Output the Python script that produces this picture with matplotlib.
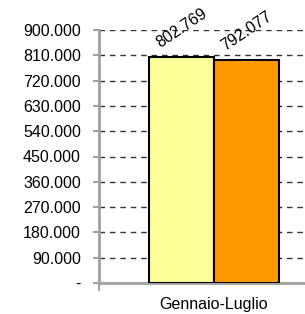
import matplotlib
matplotlib.use("Agg")
import matplotlib.pyplot as plt
from matplotlib.ticker import FuncFormatter, MultipleLocator

categories = ["Gennaio-Luglio"]
series_a = [802769]
series_b = [792077]
value_labels_a = ["802.769"]
value_labels_b = ["792.077"]

plt.rcParams['font.family'] = ['Liberation Sans', 'DejaVu Sans']

fig = plt.figure(figsize=(3.05, 3.14), dpi=100)
ax = fig.add_axes([99/305, 31/314, 230/305, 253/314])

w = 0.283
x = list(range(len(categories)))
xa = [i - w/2 for i in x]
xb = [i + w/2 for i in x]

ax.set_axisbelow(True)
ax.yaxis.grid(True, linestyle=(0, (4, 3.5)), color='#333333', linewidth=1.0)
ba = ax.bar(xa, series_a, width=w, color='#FFFF99', edgecolor='black', linewidth=1.5, zorder=3)
bb = ax.bar(xb, series_b, width=w, color='#FF9900', edgecolor='black', linewidth=1.5, zorder=3)

for xs, vals, labs in ((xa, series_a, value_labels_a), (xb, series_b, value_labels_b)):
    for xi, v, lab in zip(xs, vals, labs):
        ax.annotate(lab, (xi, v), xytext=(0, 21), textcoords='offset points',
                    ha='center', va='center', rotation=34, fontsize=11.5, color='black',
                    rotation_mode='anchor', zorder=5)

ax.set_xlim(-0.5, 0.5)
ax.set_ylim(0, 900000)
ax.yaxis.set_major_locator(MultipleLocator(90000))
ax.yaxis.set_major_formatter(FuncFormatter(lambda v, p: '-' if v == 0 else f"{int(round(v)):,}".replace(',', '.')))

ax.set_xticks(x)
ax.set_xticklabels(categories, fontsize=11.5)
ax.set_xticks([-0.5, 0.5], minor=True)
ax.tick_params(axis='x', which='major', length=0, pad=10)
ax.tick_params(axis='x', which='minor', length=6, color='#a0a0a0', width=1.5, direction='out')
ax.tick_params(axis='y', length=4, color='#a0a0a0', width=1.5, labelsize=11.5, pad=9)

for s in ('top', 'right'):
    ax.spines[s].set_visible(False)
for s in ('left', 'bottom'):
    ax.spines[s].set_color('#a0a0a0')
    ax.spines[s].set_linewidth(2)

fig.savefig('out.png', dpi=100)
